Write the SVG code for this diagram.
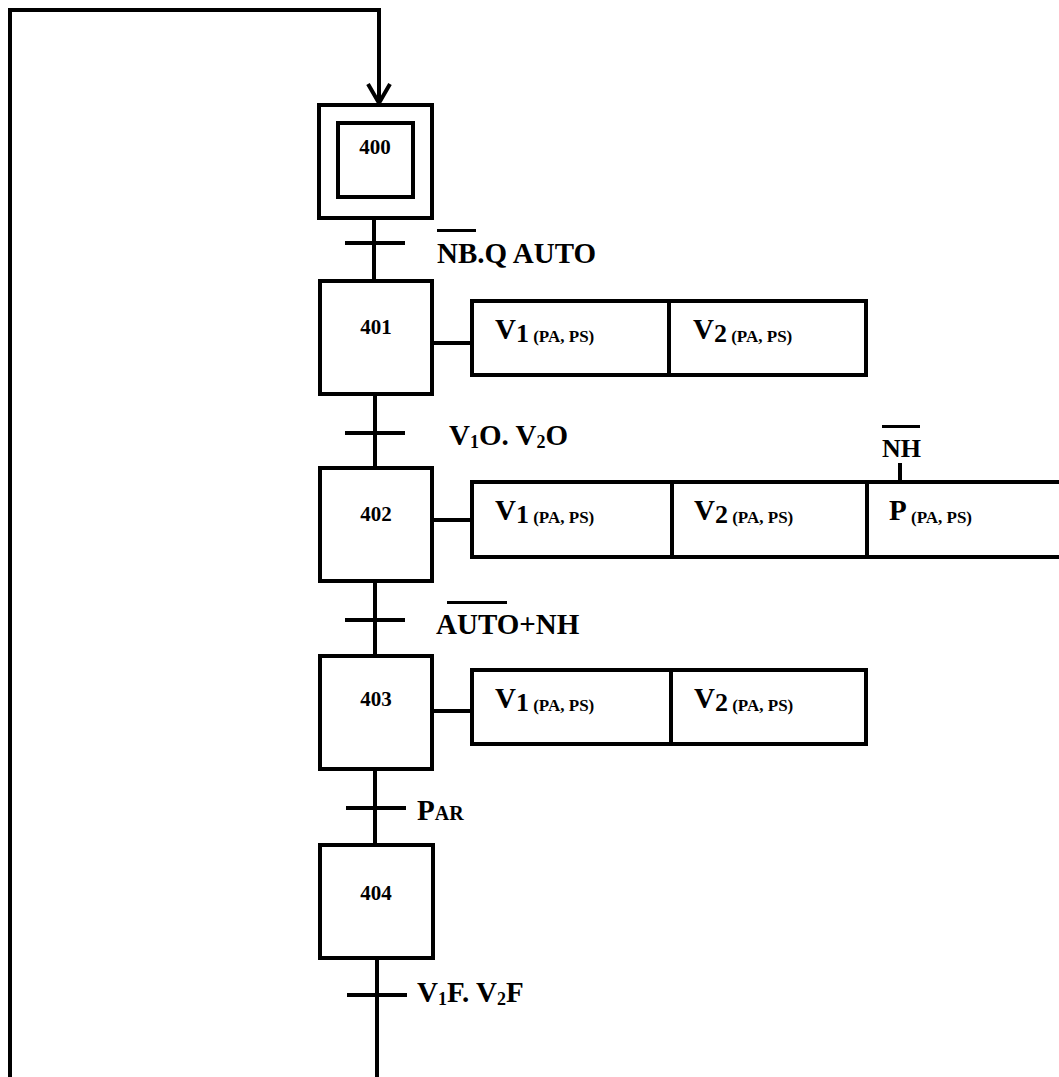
<svg xmlns="http://www.w3.org/2000/svg" width="1059" height="1077" viewBox="0 0 1059 1077">
<style>
.box{fill:#fff;stroke:#000;stroke-width:4}
.ln{fill:none;stroke:#000;stroke-width:4}
.ol{fill:none;stroke:#000;stroke-width:3}
text{font-family:"Liberation Serif","Times New Roman",serif;font-weight:bold;fill:#000}
.num{font-size:21px;text-anchor:middle}
.tr{font-size:29px}
.act{font-size:29px}
.sm{font-size:17px}
</style>
<rect width="1059" height="1077" fill="#fff"/>
<g id="connectors">
<polyline class="ln" points="10,1077 10,10 379,10 379,103"/>
<polyline class="ln" points="368,84 379,103 390,84"/>
<line class="ln" x1="374" y1="218" x2="374" y2="281"/>
<line class="ln" x1="375" y1="394" x2="375" y2="468"/>
<line class="ln" x1="375" y1="581" x2="375" y2="656"/>
<line class="ln" x1="375" y1="769" x2="375" y2="845"/>
<line class="ln" x1="377" y1="958" x2="377" y2="1077"/>
<line class="ln" x1="345" y1="243" x2="405" y2="243"/>
<line class="ln" x1="345" y1="433" x2="405" y2="433"/>
<line class="ln" x1="345" y1="620" x2="405" y2="620"/>
<line class="ln" x1="346" y1="808" x2="406" y2="808"/>
<line class="ln" x1="347" y1="995" x2="407" y2="995"/>
<line class="ln" x1="432" y1="343" x2="472" y2="343"/>
<line class="ln" x1="432" y1="520" x2="472" y2="520"/>
<line class="ln" x1="432" y1="711" x2="472" y2="711"/>
</g>
<g id="t400">
<line class="ol" x1="437" y1="230.5" x2="476" y2="230.5"/>
<text class="tr" x="437" y="263">NB.Q AUTO</text>
</g>
<g id="t401">
<text class="tr" x="449" y="445">V<tspan font-size="18" dy="3">1</tspan><tspan dy="-3">O. V</tspan><tspan font-size="18" dy="3">2</tspan><tspan dy="-3">O</tspan></text>
</g>
<g id="t402">
<line class="ol" x1="447" y1="602.5" x2="507" y2="602.5"/>
<text class="tr" x="436" y="634">AUTO+NH</text>
</g>
<g id="t403">
<text class="tr" x="417" y="820">P<tspan font-size="20">AR</tspan></text>
</g>
<g id="t404">
<text class="tr" x="417" y="1002">V<tspan font-size="18" dy="3">1</tspan><tspan dy="-3">F. V</tspan><tspan font-size="18" dy="3">2</tspan><tspan dy="-3">F</tspan></text>
</g>
<g id="step400">
<rect class="box" x="319" y="105" width="113" height="113"/>
<rect class="box" x="338" y="123" width="75" height="74"/>
<text class="num" x="375" y="154">400</text>
</g>
<g id="step401">
<rect class="box" x="320" y="281" width="112" height="113"/>
<text class="num" x="376" y="334">401</text>
</g>
<g id="step402">
<rect class="box" x="320" y="468" width="112" height="113"/>
<text class="num" x="376" y="521">402</text>
</g>
<g id="step403">
<rect class="box" x="320" y="656" width="112" height="113"/>
<text class="num" x="376" y="706">403</text>
</g>
<g id="step404">
<rect class="box" x="320" y="845" width="113" height="113"/>
<text class="num" x="376" y="900">404</text>
</g>
<g id="actions401">
<rect class="box" x="472" y="301" width="394" height="74"/>
<line class="ln" x1="669" y1="301" x2="669" y2="375"/>
<text class="act" x="495" y="339">V<tspan font-size="26" dy="3">1</tspan><tspan class="sm"> (PA, PS)</tspan></text>
<text class="act" x="693" y="339">V<tspan font-size="26" dy="3">2</tspan><tspan class="sm"> (PA, PS)</tspan></text>
</g>
<g id="actions402">
<rect class="box" x="472" y="482" width="600" height="75"/>
<line class="ln" x1="672" y1="482" x2="672" y2="557"/>
<line class="ln" x1="867" y1="482" x2="867" y2="557"/>
<text class="act" x="495" y="520">V<tspan font-size="26" dy="3">1</tspan><tspan class="sm"> (PA, PS)</tspan></text>
<text class="act" x="694" y="520">V<tspan font-size="26" dy="3">2</tspan><tspan class="sm"> (PA, PS)</tspan></text>
<text class="act" x="889" y="520">P<tspan class="sm" dy="3"> (PA, PS)</tspan></text>
<line class="ln" x1="900" y1="463" x2="900" y2="480"/>
<line class="ol" x1="882" y1="426.5" x2="920" y2="426.5"/>
<text x="882" y="457" font-size="26">NH</text>
</g>
<g id="actions403">
<rect class="box" x="472" y="670" width="394" height="74"/>
<line class="ln" x1="671" y1="670" x2="671" y2="744"/>
<text class="act" x="495" y="708">V<tspan font-size="26" dy="3">1</tspan><tspan class="sm"> (PA, PS)</tspan></text>
<text class="act" x="694" y="708">V<tspan font-size="26" dy="3">2</tspan><tspan class="sm"> (PA, PS)</tspan></text>
</g>
</svg>
